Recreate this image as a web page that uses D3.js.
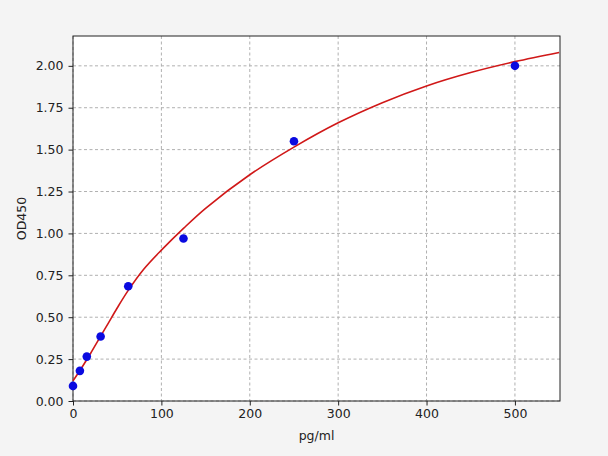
<!DOCTYPE html>
<html>
<head>
<meta charset="utf-8">
<script src="https://cdn.jsdelivr.net/npm/d3@7"></script>
<style>
  body { margin: 0; background: #f4f4f4; }
  svg { display: block; }
  svg text { font-family: "DejaVu Sans", sans-serif; }
</style>
</head>
<body>
<div class="chart"></div>
<script>
// standards (pg/ml) and measured OD450
let conc = [0, 7.8, 15.6, 31.25, 62.5, 125, 250, 500];
let od = [0.09, 0.18, 0.265, 0.385, 0.685, 0.97, 1.55, 2.0];

// fitted curve
let fitX = [0, 10, 20, 30, 40, 50, 62.5, 80, 100, 125, 150, 200, 250, 300, 350, 400, 450, 500, 550];
let fitY = [0.12, 0.2, 0.285, 0.375, 0.465, 0.555, 0.66, 0.786, 0.9, 1.03, 1.15, 1.35, 1.515, 1.66, 1.78, 1.88, 1.96, 2.025, 2.08];

let xTicks = [0, 100, 200, 300, 400, 500];
let yTicks = [0, 0.25, 0.5, 0.75, 1.0, 1.25, 1.5, 1.75, 2.0];

let margin = { top: 36, right: 48, bottom: 55, left: 73 };
let width = 608 - margin.left - margin.right;
let height = 456 - margin.top - margin.bottom;

let svg = d3.select('.chart')
  .append('svg')
    .attr('width', 608)
    .attr('height', 456)
  .append('g')
    .attr('transform', `translate(${margin.left}, ${margin.top})`);

svg.append('rect')
  .attr('width', width)
  .attr('height', height)
  .style('fill', '#fff');

let xScale = d3.scaleLinear()
  .domain([0, 551])
  .range([0, width]);

let yScale = d3.scaleLinear()
  .domain([0, 2.178])
  .range([height, 0]);

// grid
svg.append('g')
  .selectAll('line')
  .data(xTicks)
  .join('line')
    .attr('x1', d => xScale(d)).attr('x2', d => xScale(d))
    .attr('y1', 0).attr('y2', height)
    .style('stroke', '#b0b0b0')
    .style('stroke-dasharray', '3,2.5');

svg.append('g')
  .selectAll('line')
  .data(yTicks)
  .join('line')
    .attr('x1', 0).attr('x2', width)
    .attr('y1', d => yScale(d)).attr('y2', d => yScale(d))
    .style('stroke', '#b0b0b0')
    .style('stroke-dasharray', '3,2.5');

let xAxis = d3.axisBottom(xScale)
  .tickValues(xTicks)
  .tickFormat(d3.format('d'))
  .tickSizeInner(4.5)
  .tickSizeOuter(0)
  .tickPadding(4);

let yAxis = d3.axisLeft(yScale)
  .tickValues(yTicks)
  .tickFormat(d3.format('.2f'))
  .tickSizeInner(4.5)
  .tickSizeOuter(0)
  .tickPadding(5);

let gx = svg.append('g')
  .attr('transform', `translate(0, ${height})`)
  .call(xAxis);

let gy = svg.append('g').call(yAxis);

[gx, gy].forEach(g => {
  g.attr('font-family', null);
  g.select('.domain').remove();
  g.selectAll('text').style('font-size', '12.5px').style('fill', '#222');
  g.selectAll('line').style('stroke', '#222');
});

// frame
svg.append('rect')
  .attr('width', width)
  .attr('height', height)
  .style('fill', 'none')
  .style('stroke', '#222')
  .style('stroke-width', 1);

// curve
let line = d3.line()
  .x((d, i) => xScale(fitX[i]))
  .y(d => yScale(d))
  .curve(d3.curveCatmullRom.alpha(0.5));

svg.append('path')
  .datum(fitY)
  .attr('d', line)
  .style('fill', 'none')
  .style('stroke', '#d01818')
  .style('stroke-width', 1.6);

// points
svg.append('g')
  .selectAll('circle')
  .data(od)
  .join('circle')
    .attr('cx', (d, i) => xScale(conc[i]))
    .attr('cy', d => yScale(d))
    .attr('r', 4.3)
    .style('fill', '#0a0ae0');

// axis titles
svg.append('text')
  .attr('x', width / 2)
  .attr('y', height + 39)
  .attr('text-anchor', 'middle')
  .style('font-size', '12.5px')
  .style('fill', '#222')
  .text('pg/ml');

svg.append('text')
  .attr('transform', `translate(${-47}, ${height / 2}) rotate(-90)`)
  .attr('text-anchor', 'middle')
  .style('font-size', '12.5px')
  .style('fill', '#222')
  .text('OD450');
</script>
</body>
</html>
